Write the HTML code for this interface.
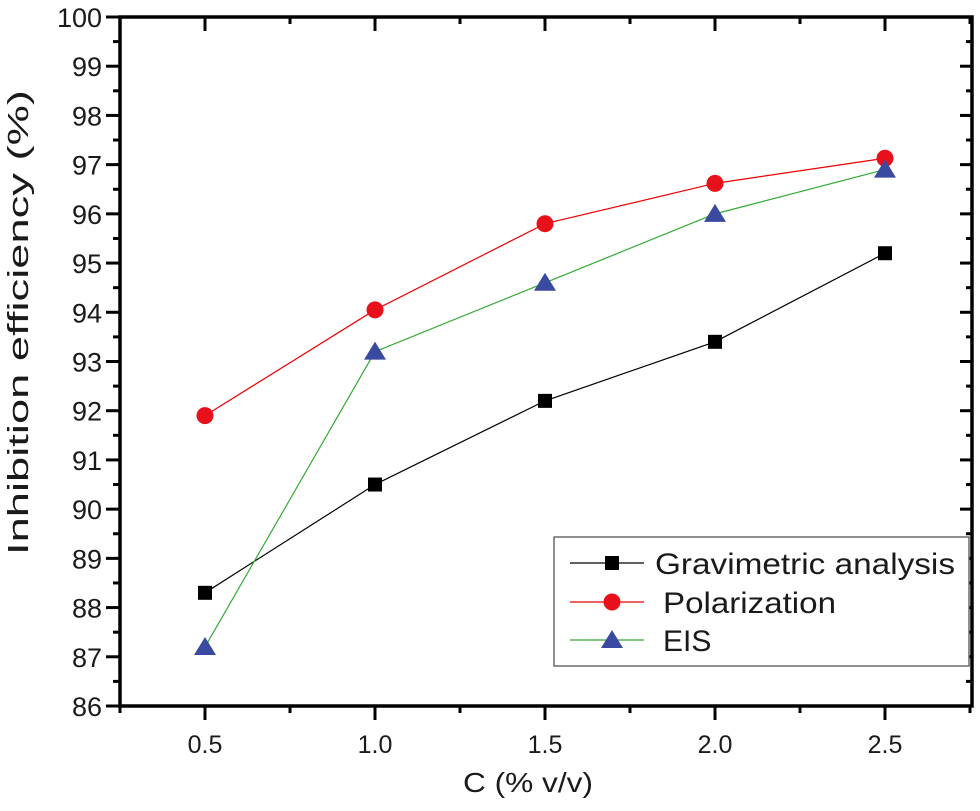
<!DOCTYPE html>
<html><head><meta charset="utf-8"><style>
html,body{margin:0;padding:0;background:#fff;}
svg text{font-family:"Liberation Sans",Arial,sans-serif;fill:#1a1a1a;}
</style></head><body>
<svg id="chart" width="980" height="806" viewBox="0 0 980 806" xmlns="http://www.w3.org/2000/svg">
<g id="axes"></g>
<g id="series"></g>
<g id="legend">
  <rect x="554" y="537" width="415" height="129" fill="#fff" stroke="#555" stroke-width="1.3"/>
  <g>
    <line x1="570" y1="563" x2="644" y2="563" stroke="#000" stroke-width="1.2"/>
    <rect x="605" y="556" width="14" height="14" fill="#000"/>
    <text x="655" y="574" font-size="30" textLength="300" lengthAdjust="spacingAndGlyphs">Gravimetric analysis</text>
  </g>
  <g>
    <line x1="570" y1="602" x2="644" y2="602" stroke="#e00" stroke-width="1.2"/>
    <circle cx="612" cy="602" r="8.5" fill="#e8101a"/>
    <text x="663" y="613" font-size="30" textLength="173" lengthAdjust="spacingAndGlyphs">Polarization</text>
  </g>
  <g>
    <line x1="570" y1="640" x2="644" y2="640" stroke="#3a3" stroke-width="1.2"/>
    <polygon points="612,630 623,648 601,648" fill="#3a4aa0"/>
    <text x="663" y="651" font-size="30">EIS</text>
  </g>
</g>
</svg>
<script>
const categories=[0.5,1.0,1.5,2.0,2.5];
const gravimetric=[88.3,90.5,92.2,93.4,95.2];
const polarization=[91.9,94.05,95.8,96.62,97.13];
const eis=[87.2,93.2,94.6,96.0,96.9];
const yTicks=[86,87,88,89,90,91,92,93,94,95,96,97,98,99,100];
const xTicks=["0.5","1.0","1.5","2.0","2.5"];
const L=120,R=972,T=17,B=706;
function xs(v){return 205+(v-0.5)*340;}
function ys(v){return B-(v-86)*(B-T)/14;}
const NS="http://www.w3.org/2000/svg";
function mk(tag,attrs,parent){const e=document.createElementNS(NS,tag);for(const k in attrs)e.setAttribute(k,attrs[k]);parent.appendChild(e);return e;}
const axes=document.getElementById('axes');
const frame=mk('rect',{x:L,y:T,width:R-L,height:B-T,fill:'none',stroke:'#000','stroke-width':3.5},axes);


yTicks.forEach((v,i)=>{
  const y=ys(v);
  mk('line',{x1:L-14,x2:L,y1:y,y2:y,stroke:'#000','stroke-width':3},axes);
  mk('line',{x1:R,x2:R-12,y1:y,y2:y,stroke:'#000','stroke-width':3},axes);
  if(i<yTicks.length-1){const ym=ys(v+0.5);
    mk('line',{x1:L-7,x2:L,y1:ym,y2:ym,stroke:'#000','stroke-width':3},axes);
    mk('line',{x1:R,x2:R-6,y1:ym,y2:ym,stroke:'#000','stroke-width':3},axes);}
  const t=mk('text',{x:L-18,y:y+10,'font-size':27,'text-anchor':'end'},axes);
  t.textContent=v;
  
  
});
xTicks.forEach((s,i)=>{
  const v=parseFloat(s),x=xs(v);
  mk('line',{x1:x,x2:x,y1:B,y2:B+14,stroke:'#000','stroke-width':3},axes);
  mk('line',{x1:x,x2:x,y1:T,y2:T+14,stroke:'#000','stroke-width':3},axes);
  const t=mk('text',{x:x,y:B+47,'font-size':25,'text-anchor':'middle'},axes);
  t.textContent=s;
  
  
});
[0.25,0.75,1.25,1.75,2.25,2.75].forEach(v=>{const x=xs(v);if(x<L||x>R)return;
  mk('line',{x1:x,x2:x,y1:B,y2:B+7,stroke:'#000','stroke-width':3},axes);
  mk('line',{x1:x,x2:x,y1:T,y2:T+7,stroke:'#000','stroke-width':3},axes);});
const xt=mk('text',{x:463,y:792,'font-size':28,textLength:130,lengthAdjust:'spacingAndGlyphs'},axes);
xt.textContent='C (% v/v)';


const yt=mk('text',{x:0,y:0,'font-size':29,textLength:465,lengthAdjust:'spacingAndGlyphs',transform:'translate(28,555) rotate(-90)'},axes);
yt.textContent='Inhibition efficiency (%)';


const ser=document.getElementById('series');
function line(vals,color,name){
  const p=mk('polyline',{points:vals.map((v,i)=>xs(categories[i])+','+ys(v)).join(' '),fill:'none',stroke:color,'stroke-width':1.2},ser);
  
  
}
line(gravimetric,'#000','gravimetric');
line(polarization,'#e00','polarization');
line(eis,'#3a3','eis');
gravimetric.forEach((v,i)=>{const m=mk('rect',{x:xs(categories[i])-7,y:ys(v)-7,width:14,height:14,fill:'#000'},ser);
  
  });
polarization.forEach((v,i)=>{const m=mk('circle',{cx:xs(categories[i]),cy:ys(v),r:8.5,fill:'#e8101a'},ser);
  
  });
eis.forEach((v,i)=>{const x=xs(categories[i]),y=ys(v);
  const m=mk('polygon',{points:`${x},${y-10} ${x+11},${y+8} ${x-11},${y+8}`,fill:'#3a4aa0'},ser);
  
  });
</script>
</body></html>
